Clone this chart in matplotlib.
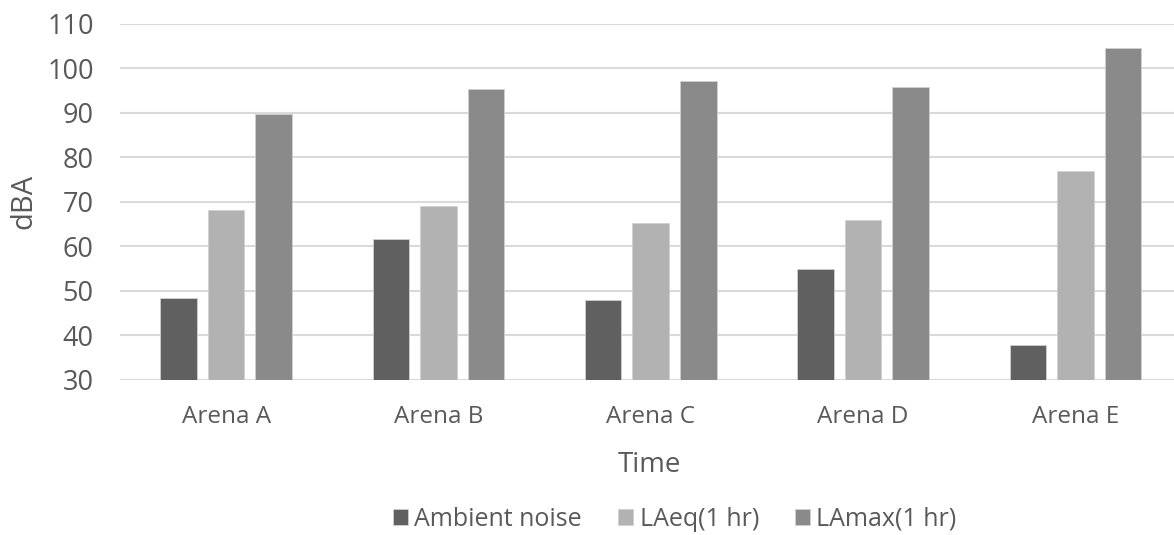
import matplotlib
matplotlib.use("Agg")
from matplotlib import pyplot as plt
import numpy as np

# data
arenas = ["Arena A", "Arena B", "Arena C", "Arena D", "Arena E"]
ambient = [48.3, 61.6, 47.9, 54.8, 37.9]
laeq = [68.2, 69.1, 65.3, 65.9, 77.0]
lamax = [89.8, 95.4, 97.1, 95.7, 104.5]
series_names = ["Ambient noise", "LAeq(1 hr)", "LAmax(1 hr)"]
colors = ["#606060", "#b2b2b2", "#8a8a8a"]

plt.rcParams['font.family'] = ['Open Sans', 'DejaVu Sans']
txt = "#595959"

fig = plt.figure(figsize=(11.74, 5.35), dpi=100)
W, H = 1174, 535
# axes from x=120 to 1181 (slightly past the right edge), y=23.5 to 380
ax = fig.add_axes([120 / W, (H - 380) / H, 1061.5 / W, 356.5 / H])

x = np.arange(len(arenas))
width = 0.172
offsets = [-0.224, 0, 0.224]
for vals, off, c, name in zip([ambient, laeq, lamax], offsets, colors, series_names):
    ax.bar(x + off, np.array(vals) - 30, width, bottom=30, color=c, label=name,
           edgecolor="#d0d0d0", linewidth=0.6, zorder=3)

ax.set_xlim(-0.5, 4.5)
ax.set_ylim(30, 110)
ax.set_yticks(range(30, 111, 10))
ax.set_xticks(x)
ax.set_xticklabels(arenas)
ax.grid(axis="y", color="#d9d9d9", linewidth=1.5, zorder=0)
ax.tick_params(axis="y", length=0, pad=19, labelsize=19.5, labelcolor=txt)
ax.tick_params(axis="x", length=0, pad=18, labelsize=17.5, labelcolor=txt)
for s in ax.spines.values():
    s.set_visible(False)

fig.text(24 / W, 1 - 201 / H, "dBA", rotation=90, ha="center", va="center",
         fontsize=21, color=txt)
fig.text(649 / W, 1 - 465 / H, "Time", ha="center", va="center",
         fontsize=20, color=txt)

leg = fig.legend(loc="center", bbox_to_anchor=(675 / W, 1 - 519 / H), ncol=3,
                 frameon=False, fontsize=18, handlelength=0.6, handleheight=0.6,
                 handletextpad=0.25, columnspacing=1.45)
for t in leg.get_texts():
    t.set_color(txt)

fig.savefig("out.png", dpi=100)
